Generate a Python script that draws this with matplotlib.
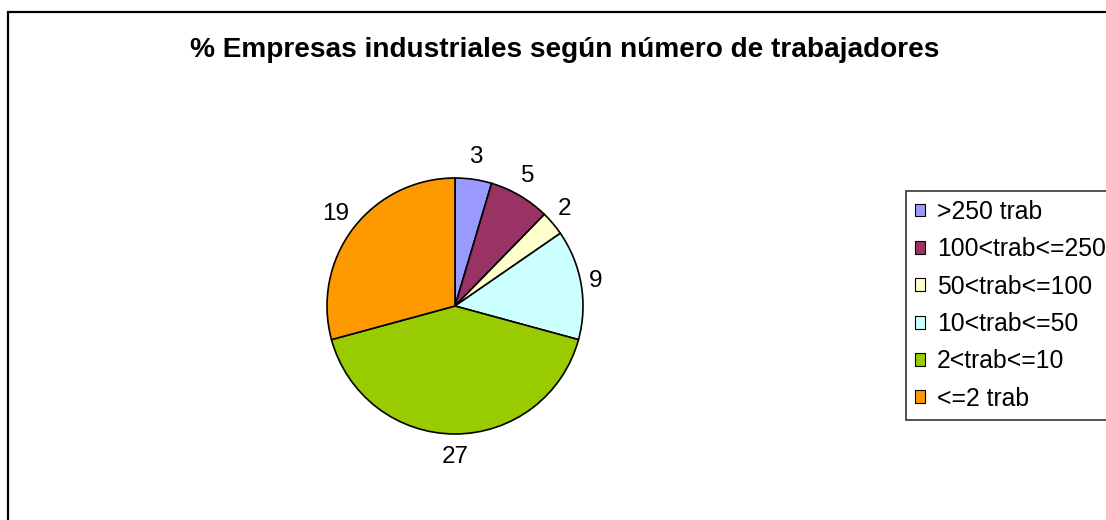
import numpy as np
import matplotlib
matplotlib.use("Agg")
import matplotlib.pyplot as plt
from matplotlib.patches import Rectangle

plt.rcParams['font.family'] = ['Liberation Sans', 'DejaVu Sans']

title = "% Empresas industriales según número de trabajadores"
categories = [">250 trab", "100<trab<=250", "50<trab<=100", "10<trab<=50", "2<trab<=10", "<=2 trab"]
values = [3, 5, 2, 9, 27, 19]
colors = ["#9999FF", "#993366", "#FFFFCC", "#CCFFFF", "#99CC00", "#FF9900"]

W, H, DPI = 1106, 520, 100
fig = plt.figure(figsize=(W / DPI, H / DPI), dpi=DPI)
fig.patch.set_facecolor("white")

# outer chart border
fig.patches.append(Rectangle((8 / W, -0.2), 1.2, (H - 12) / H + 0.2, transform=fig.transFigure,
                             fill=False, edgecolor="black", linewidth=1.6, zorder=0))

fig.text(565 / W, 1 - 50 / H, title, ha="center", va="center", fontsize=20.2, fontweight="bold")

cx, cy, r = 455, 306, 128
ax = fig.add_axes([(cx - r) / W, (H - cy - r) / H, 2 * r / W, 2 * r / H])
wedges, _ = ax.pie(values, colors=colors, startangle=90, counterclock=False, radius=1,
                   wedgeprops=dict(edgecolor="black", linewidth=1.2))
ax.set_xlim(-1, 1)
ax.set_ylim(-1, 1)
ax.set_aspect("equal")
ax.axis("off")

total = sum(values)
cum = np.cumsum([0] + values)
for i, v in enumerate(values):
    mid = np.deg2rad(90 - (cum[i] + v / 2) / total * 360)
    c, s = np.cos(mid), np.sin(mid)
    hw = 7 * len(str(v))
    dx = c * (8 + hw)
    dy = s * (12 + 11)
    ax.annotate(str(v), xy=(c, s), xytext=(dx, dy), textcoords="offset pixels",
                ha="center", va="center", fontsize=17.5, annotation_clip=False)

leg = fig.legend(wedges, categories, loc="upper left", bbox_to_anchor=(906 / W, 1 - 191 / H),
                 fontsize=17.8, frameon=True, fancybox=False, shadow=False,
                 handlelength=0.42, handleheight=0.42, handletextpad=0.48,
                 labelspacing=0.54, borderpad=0.36, borderaxespad=0)
leg.get_frame().set_edgecolor("black")
leg.get_frame().set_linewidth(1.2)
for h in leg.legend_handles:
    h.set_linewidth(0.8)

fig.savefig("out.png", dpi=DPI)
